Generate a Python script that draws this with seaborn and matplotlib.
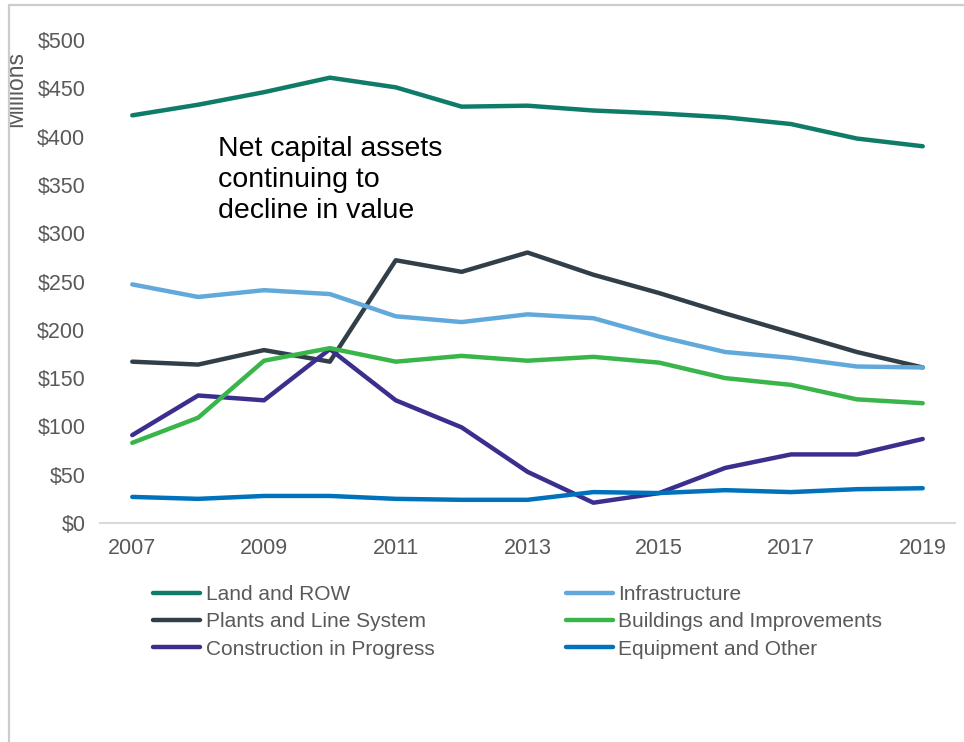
import matplotlib
matplotlib.use("Agg")
import matplotlib.pyplot as plt
from matplotlib.lines import Line2D
from matplotlib.transforms import Bbox, TransformedBbox
import seaborn as sns
import pandas as pd

years = list(range(2007, 2020))

land_row = [422, 433, 446, 461, 451, 431, 432, 427, 424, 420, 413, 398, 390]
infrastructure = [247, 234, 241, 237, 214, 208, 216, 212, 193, 177, 171, 162, 161]
plants_line = [167, 164, 179, 167, 272, 260, 280, 257, 238, 217, 197, 177, 161]
buildings = [83, 109, 168, 181, 167, 173, 168, 172, 166, 150, 143, 128, 124]
construction = [91, 132, 127, 180, 127, 99, 53, 21, 31, 57, 71, 71, 87]
equipment = [27, 25, 28, 28, 25, 24, 24, 32, 31, 34, 32, 35, 36]

series_names = [
    "Land and ROW",
    "Plants and Line System",
    "Construction in Progress",
    "Infrastructure",
    "Buildings and Improvements",
    "Equipment and Other",
]
series_values = [land_row, plants_line, construction, infrastructure, buildings, equipment]
colors = ["#0f7b69", "#333f48", "#3b2f8e", "#62a9db", "#39b54a", "#0071bb"]

y_ticks = [0, 50, 100, 150, 200, 250, 300, 350, 400, 450, 500]
x_ticks = [2007, 2009, 2011, 2013, 2015, 2017, 2019]

rows = []
for name, vals in zip(series_names, series_values):
    for yr, v in zip(years, vals):
        rows.append({"Year": yr, "Value": v, "Series": name})
df = pd.DataFrame(rows)

sns.set_theme(style="white")
plt.rcParams["font.family"] = ["Liberation Sans", "DejaVu Sans"]

W, H = 964, 742
fig = plt.figure(figsize=(W / 100, H / 100), dpi=100)
ax = fig.add_axes([100 / W, 1 - 523 / H, 855 / W, 483 / H])

sns.lineplot(data=df, x="Year", y="Value", hue="Series", hue_order=series_names,
             palette=colors, linewidth=3.2, ax=ax, legend=False,
             solid_capstyle="round", solid_joinstyle="round")

ax.set_xlim(2006.51, 2019.49)
ax.set_ylim(0, 500)
ax.set_xticks(x_ticks)
ax.set_xticklabels([str(x) for x in x_ticks])
ax.set_yticks(y_ticks)
ax.set_yticklabels([f"${v}" for v in y_ticks])
ax.tick_params(axis="both", length=0, labelsize=15.5, labelcolor="#595959")
ax.tick_params(axis="x", pad=11)
ax.tick_params(axis="y", pad=10.5)
ax.set_xlabel("")
ax.set_ylabel("")
for side in ["top", "right", "left"]:
    ax.spines[side].set_visible(False)
ax.spines["bottom"].set_color("#d9d9d9")
ax.spines["bottom"].set_linewidth(1.5)

ax.text(2008.3, 401, "Net capital assets\ncontinuing to\ndecline in value",
        fontsize=20.5, color="#000000", va="top", ha="left", linespacing=1.26)

units = fig.text(22 / W, 1 - 89 / H, "Millions", rotation=90, rotation_mode="anchor",
                 fontsize=16.5, color="#595959", ha="center", va="baseline")
units.set_clip_box(TransformedBbox(Bbox([[9.5 / W, 0], [1, 1]]), fig.transFigure))
units.set_clip_on(True)

# legend in two columns (filled column by column)
handles = [Line2D([0], [0], color=c, linewidth=3.2, solid_capstyle="round")
           for c in colors]
fig.legend(handles, series_names, ncol=2, loc="upper left",
           bbox_to_anchor=(153 / W, 1 - 585 / H), frameon=False,
           fontsize=15, labelcolor="#595959", handlelength=2.25,
           handletextpad=0.28, columnspacing=6.3, labelspacing=0.4,
           borderpad=0, borderaxespad=0)

# outer frame lines along the top and left edges
fig.add_artist(Line2D([8.5 / W, 1], [1 - 5 / H, 1 - 5 / H],
                      transform=fig.transFigure, color="#cccccc", linewidth=1.6))
fig.add_artist(Line2D([8.5 / W, 8.5 / W], [0, 1 - 5 / H],
                      transform=fig.transFigure, color="#cccccc", linewidth=1.6))

fig.savefig("out.png", dpi=100, facecolor="white")
